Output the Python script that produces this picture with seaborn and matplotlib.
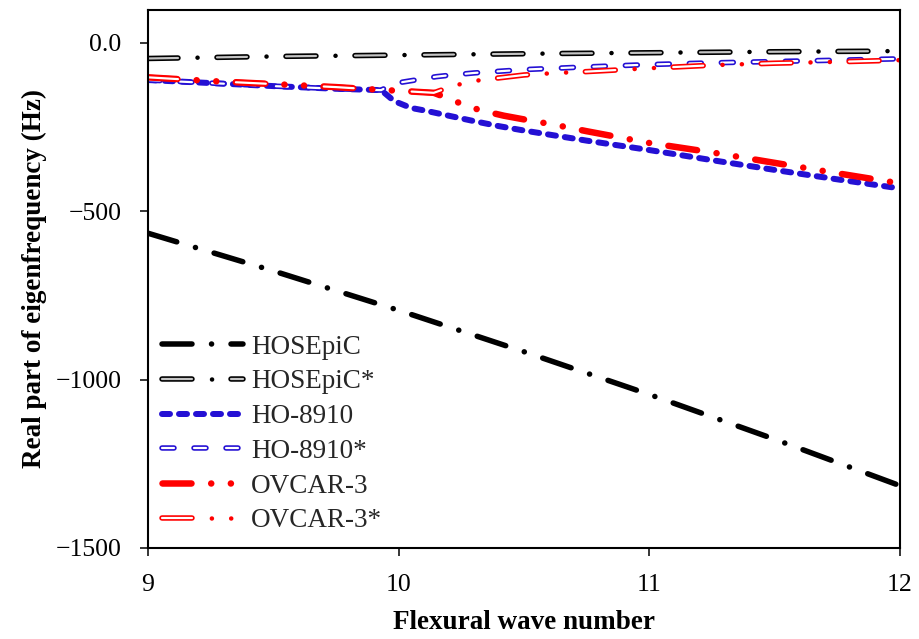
import matplotlib
matplotlib.use("Agg")
import matplotlib.pyplot as plt
import matplotlib.patheffects as pe
from matplotlib.legend_handler import HandlerTuple
import seaborn as sns

# ---------------- data ----------------
x_hosepic = [9.0, 9.5, 10.0, 10.5, 11.0, 11.5, 12.0]
y_hosepic = [-565, -677, -794, -917, -1044, -1177, -1315]

x_hosepic_s = [9.0, 9.5, 10.0, 10.5, 11.0, 11.5, 12.0]
y_hosepic_s = [-46, -40, -36, -32, -29, -26, -24]

x_ho = [9.0, 9.25, 9.5, 9.75, 9.93, 9.97, 10.0, 10.05, 10.1, 10.15, 10.2,
        10.3, 10.4, 10.5, 10.75, 11.0, 11.25, 11.5, 11.75, 12.0]
y_ho = [-110, -119, -128, -136, -140, -165, -178, -193, -200, -208, -216,
        -232, -247, -260, -290, -318, -348, -377, -405, -432]
y_ho_s = [-110, -119, -128, -136, -140, -125, -118, -112, -106, -100, -96,
          -89, -84, -79, -71, -64, -59, -55, -51, -47]

x_ov = [9.0, 9.25, 9.5, 9.75, 9.9, 10.0, 10.14, 10.2, 10.28, 10.35, 10.42,
        10.5, 10.63, 10.75, 11.0, 11.25, 11.5, 11.75, 12.0]
y_ov = [-102, -113, -122, -131, -138, -142, -148, -165, -190, -204, -216,
        -227, -244, -262, -297, -325, -356, -387, -417]
y_ov_s = [-102, -113, -122, -131, -138, -142, -148, -132, -115, -108, -102,
          -95, -89, -85, -75, -66, -60, -56, -51]

labels = ["HOSEpiC", "HOSEpiC*", "HO-8910", "HO-8910*", "OVCAR-3", "OVCAR-3*"]
x_ticks = [9, 10, 11, 12]
y_ticks = [0, -500, -1000, -1500]
y_ticklabels = ["0.0", "\u2212500", "\u22121000", "\u22121500"]

# ---------------- style ----------------
sns.set_theme(style="ticks")
plt.rcParams["font.family"] = ["Liberation Serif", "DejaVu Serif"]
plt.rcParams["lines.scale_dashes"] = False
plt.rcParams["axes.linewidth"] = 1.5

PX = 0.72  # points per pixel at dpi=100
BLACK = "#000000"
BLUE = "#2410D4"
RED = "#FF0000"

fig = plt.figure(figsize=(9.2, 6.39), dpi=100)
ax = fig.add_axes([148 / 920, 1 - 548 / 639, 752 / 920, 538 / 639])


def ls(seq, offset=0.0):
    return (offset * PX, tuple(v * PX for v in seq))


def draw(x, y, color, lw_px, style):
    sns.lineplot(x=x, y=y, ax=ax, color=color, linewidth=lw_px * PX,
                 linestyle=style, estimator=None, legend=False)
    line = ax.lines[-1]
    line.set_dash_capstyle("round")
    line.set_solid_capstyle("round")
    return line


def hollow(line, color, outer_px):
    line.set_path_effects([pe.Stroke(linewidth=outer_px * PX, foreground=color),
                           pe.Normal()])


# HOSEpiC : long dash + dot
P1, on1 = 69.0, 30.0
g1 = (P1 - on1) / 2
l1 = draw(x_hosepic, y_hosepic, BLACK, 5.5, ls([on1, g1, 0.1, g1 - 0.1]))

# HOSEpiC* : hollow dash (grey fill) + black dot
l2a = draw(x_hosepic_s, y_hosepic_s, "#C4C4C4", 2.2, ls([on1, P1 - on1]))
hollow(l2a, BLACK, 5.5)
l2b = draw(x_hosepic_s, y_hosepic_s, BLACK, 4.5, ls([0.1, P1 - 0.1], P1 - (on1 + g1)))

# HO-8910 : short dashes
l3 = draw(x_ho, y_ho, BLUE, 6.0, ls([8.0, 9.0]))

# HO-8910* : hollow dashes
l4 = draw(x_ho, y_ho_s, "white", 2.2, ls([12.0, 20.0]))
hollow(l4, BLUE, 5.5)

# OVCAR-3 : long dash + two dots
P5, on5 = 88.0, 29.0
g5 = (P5 - on5) / 3
l5 = draw(x_ov, y_ov, RED, 6.5, ls([on5, g5, 0.1, g5 - 0.1, 0.1, g5 - 0.2]))

# OVCAR-3* : hollow dash + two red dots
on6 = 30.0
g6 = (P5 - on6) / 3
l6a = draw(x_ov, y_ov_s, "white", 2.2, ls([on6, P5 - on6]))
hollow(l6a, RED, 5.5)
l6b = draw(x_ov, y_ov_s, RED, 4.5,
           ls([0.1, g6 - 0.1, 0.1, P5 - g6 - 0.1], P5 - (on6 + g6)))

# ---------------- axes ----------------
ax.set_xlim(9, 12)
ax.set_ylim(-1500, 98)
ax.set_xticks(x_ticks)
ax.set_xticklabels([str(v) for v in x_ticks])
ax.set_yticks(y_ticks)
ax.set_yticklabels(y_ticklabels)
ax.tick_params(axis="both", direction="out", length=6, width=1.1,
               color="black", labelsize=18.5, labelcolor="black")
ax.tick_params(axis="y", pad=13)
ax.tick_params(axis="x", pad=12.5)
for s in ax.spines.values():
    s.set_visible(True)
    s.set_color("black")
    s.set_linewidth(1.5)

ax.set_xlabel("Flexural wave number", fontsize=19.5, fontweight="bold",
              color="black", labelpad=10)
ax.set_ylabel("Real part of eigenfrequency (Hz)", fontsize=19.5,
              fontweight="bold", color="black", labelpad=6)

handles = [l1, (l2a, l2b), l3, l4, l5, (l6a, l6b)]
ax.legend(handles, labels, handler_map={tuple: HandlerTuple(ndivide=1, pad=0)},
          loc="lower left", bbox_to_anchor=(0.0186, 0.027), frameon=False,
          borderpad=0, borderaxespad=0, fontsize=19.5, handlelength=3.0,
          handletextpad=0.3, labelspacing=0.36)

fig.savefig("out.png", dpi=100)
